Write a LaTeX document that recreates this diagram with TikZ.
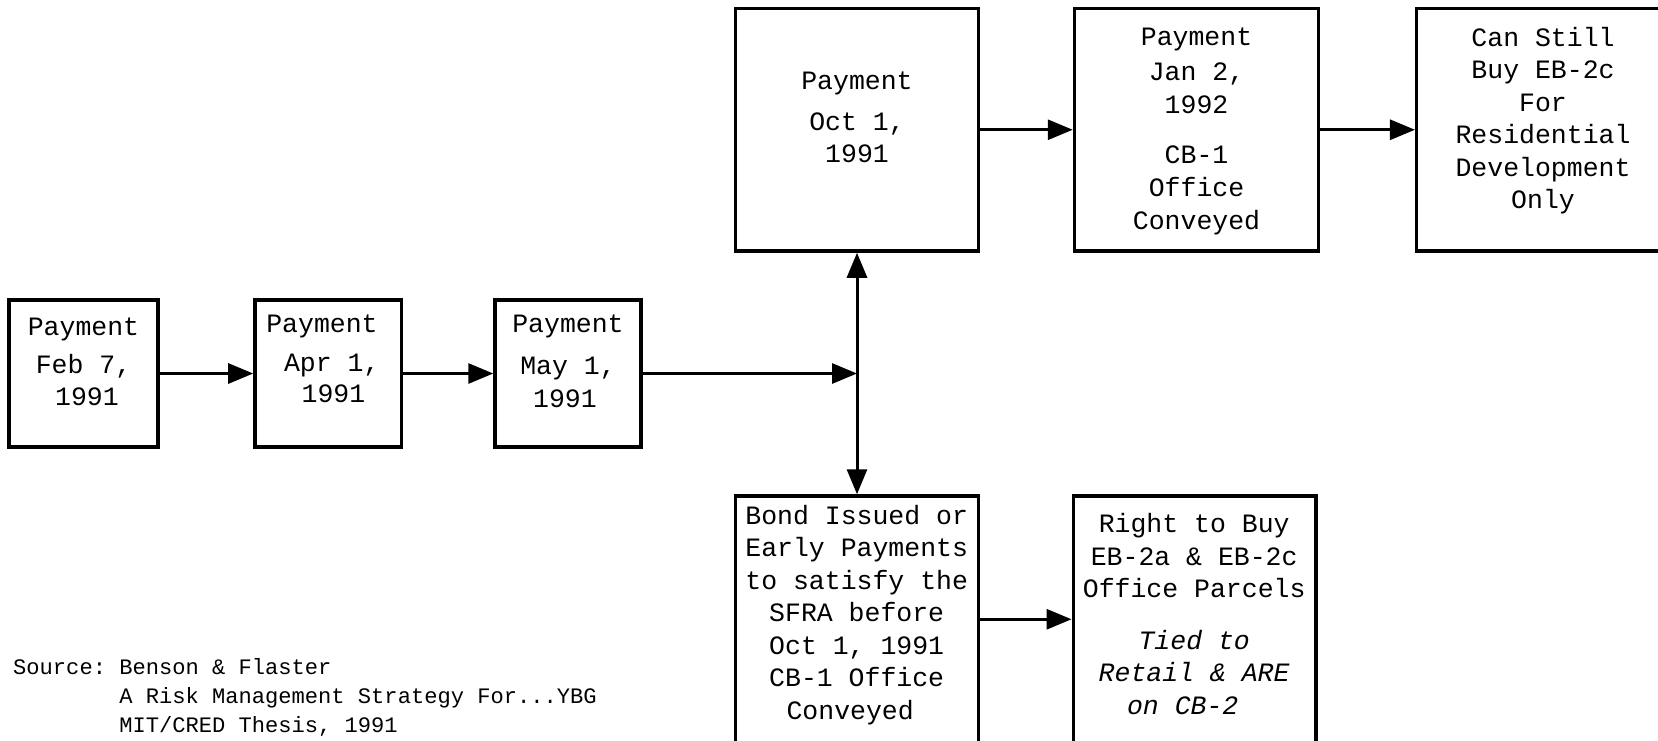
\documentclass[tikz,border=0pt]{standalone}
\usepackage{fontspec}
\newfontfamily\cour{Liberation Mono}
\usetikzlibrary{arrows.meta}
\newcommand\firstln[1]{\rule{0pt}{#1}}
\begin{document}
\begin{tikzpicture}[x=1pt,y=-1pt,
  box/.style={draw, rectangle, line width=3.5pt, inner sep=0pt},
  txt/.style={font=\cour\fontsize{26.5}{32.5}\selectfont\frenchspacing, align=center, inner sep=0pt, anchor=north},
  srctxt/.style={font=\cour\fontsize{22.1}{29}\selectfont\frenchspacing, align=left, inner sep=0pt, anchor=north west},
  arr/.style={line width=3pt, -{Triangle[length=25pt,width=20pt]}},
  darr/.style={line width=3pt, {Triangle[length=25pt,width=20pt]}-{Triangle[length=25pt,width=20pt]}}]
\useasboundingbox (0,0) rectangle (1658,740);
\fill[white] (0,0) rectangle (1658,740);
\clip (0,0) rectangle (1658,740);

% boxes
\node[box, minimum width=149pt, minimum height=147pt] (feb) at (83.5,373.5) {};
\node[box, minimum width=146.7pt, minimum height=147pt] (apr) at (328.3,373.5) {};
\node[box, minimum width=146pt, minimum height=147pt] (may) at (568,373.5) {};
\node[box, minimum width=242.8pt, minimum height=242.5pt] (oct) at (857,129.75) {};
\node[box, minimum width=244pt, minimum height=242.5pt] (jan) at (1196.5,129.75) {};
\node[box, minimum width=247.3pt, minimum height=242.5pt] (can) at (1540.35,129.75) {};
\node[box, minimum width=242.8pt, minimum height=246.5pt] (bond) at (857,619.25) {};
\node[box, minimum width=242.7pt, minimum height=246.5pt] (right) at (1194.65,619.25) {};

% texts
\node[txt] (febt) at (83.5,315) {\firstln{20pt}Payment\\[5.3pt]Feb 7,\\[-0.3pt]\hspace*{7pt}1991};
\node[txt] (aprt) at (328.3,312.7) {\firstln{20pt}Payment\hspace*{12.6pt}\\[5.8pt]\hspace*{7pt}Apr 1,\\[-1.2pt]\hspace*{10.4pt}1991};
\node[txt] (mayt) at (568,312.7) {\firstln{20pt}Payment\\[8.7pt]May 1,\hspace*{12.6pt}\\[0.9pt]1991\hspace*{6pt}};
\node[txt] (octt) at (857,69) {\firstln{20pt}Payment\\[8.7pt]Oct 1,\\[-0.8pt]1991};
\node[txt] (jant) at (1196.5,25) {\firstln{20pt}Payment\\[2.4pt]Jan 2,\\[1.3pt]1992\\[17.2pt]CB-1\\[0.3pt]Office\\[0.3pt]Conveyed};
\node[txt] (cant) at (1543,26) {\firstln{20pt}Can Still\\Buy EB-2c\\For\\Residential\\Development\\[-0.7pt]Only};
\node[txt] (bondt) at (856.7,504.2) {\firstln{20pt}Bond Issued or\\Early Payments\\to satisfy the\\SFRA before\\Oct 1, 1991\\CB-1 Office\hspace*{22pt}\\Conveyed\hspace*{13pt}};
\node[txt] (rightt) at (1194.2,512.5) {\firstln{20pt}Right to Buy\\EB-2a \& EB-2c\\Office Parcels\\[19.2pt]\textit{Tied to}\hspace*{23pt}\\\textit{Retail \& ARE}\hspace*{23pt}\\\textit{on CB-2}\hspace*{23pt}};

\node[srctxt] (src) at (13,657) {\firstln{17pt}Source: Benson \& Flaster\\\phantom{Source: }A Risk Management Strategy For...YBG\\\phantom{Source: }MIT/CRED Thesis, 1991};

% connectors
\coordinate (junc) at (may.east -| oct.south);
\draw[arr] (feb) -- (apr);
\draw[arr] (apr) -- (may);
\draw[arr] (may.east) -- (junc);
\draw[darr] (oct.south) -- (bond.north);
\draw[arr] (oct) -- (jan);
\draw[arr] (jan) -- (can);
\draw[arr] (bond) -- (right);
\end{tikzpicture}
\end{document}
